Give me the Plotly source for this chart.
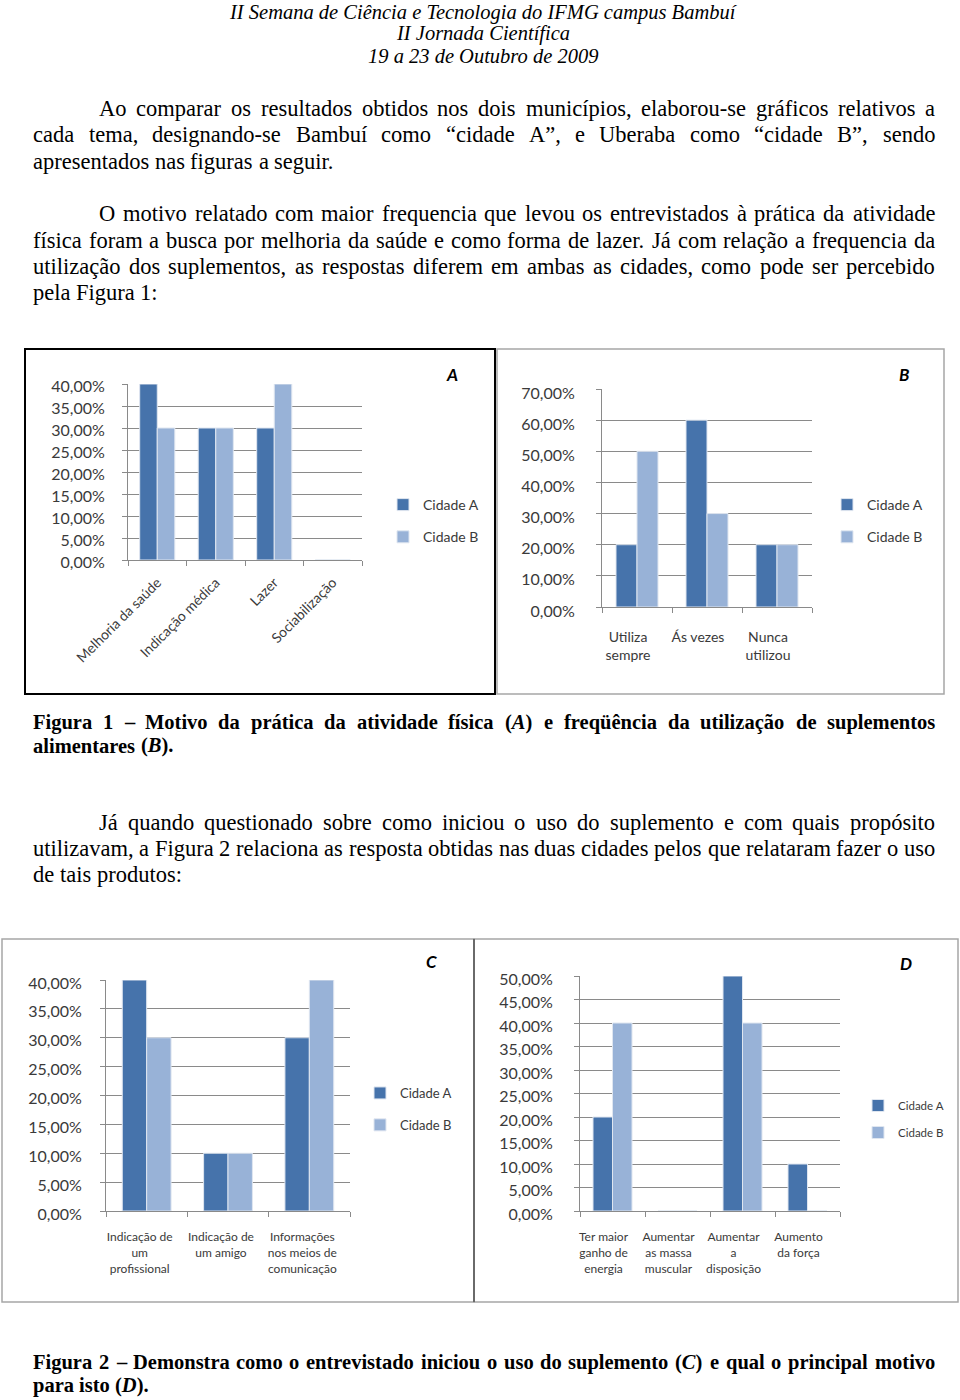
import unicodedata
import plotly.graph_objects as go

W, H = 960, 1400


def fx(px):
    return px / W


def fy(py):
    return 1 - py / H


# ---------------- chart data ----------------
series_names = ["Cidade A", "Cidade B"]
series_colors = ["#4673AB", "#98B2D7"]

cats_a = ["Melhoria da saúde", "Indicação médica", "Lazer", "Sociabilização"]
a_cidade_a = [40, 30, 30, 0]
a_cidade_b = [30, 30, 40, 0]

cats_b = ["Utiliza<br>sempre", "Ás vezes", "Nunca<br>utilizou"]
b_cidade_a = [20, 60, 20]
b_cidade_b = [50, 30, 20]

cats_c = ["Indicação de<br>um<br>profissional", "Indicação de<br>um amigo",
          "Informações<br>nos meios de<br>comunicação"]
c_cidade_a = [40, 10, 30]
c_cidade_b = [30, 10, 40]

cats_d = ["Ter maior<br>ganho de<br>energia", "Aumentar<br>as massa<br>muscular",
          "Aumentar<br>a<br>disposição", "Aumento<br>da força"]
d_cidade_a = [20, 0, 50, 10]
d_cidade_b = [40, 0, 40, 0]

# ---------------- page text ----------------
header_lines = ["II Semana de Ciência e Tecnologia do IFMG campus Bambuí",
                "II Jornada Científica",
                "19 a 23 de Outubro de 2009"]

para1 = ["Ao comparar os resultados obtidos nos dois municípios, elaborou-se gráficos relativos a",
         "cada tema, designando-se Bambuí como “cidade A”, e Uberaba como “cidade B”, sendo",
         "apresentados nas figuras a seguir."]
para2 = ["O motivo relatado com maior frequencia que levou os entrevistados à prática da atividade",
         "física foram a busca por melhoria da saúde e como forma de lazer. Já com relação a frequencia da",
         "utilização dos suplementos, as respostas diferem em ambas as cidades, como pode ser percebido",
         "pela Figura 1:"]
caption1 = ["Figura 1 – Motivo da prática da atividade física (A) e freqüência da utilização de suplementos",
            "alimentares (B)."]
para3 = ["Já quando questionado sobre como iniciou o uso do suplemento e com quais propósito",
         "utilizavam, a Figura 2 relaciona as resposta obtidas nas duas cidades pelos que relataram fazer o uso",
         "de tais produtos:"]
caption2 = ["Figura 2 – Demonstra como o entrevistado iniciou o uso do suplemento (C) e qual o principal motivo",
            "para isto (D)."]

# Times metrics (per 1000 em) used to justify lines
TR = {" ": 250, "!": 333, "(": 333, ")": 333, ",": 250, "-": 333, ".": 250, ":": 278, ";": 278,
      "“": 444, "”": 444, "–": 500,
      "A": 722, "B": 667, "C": 667, "D": 722, "E": 611, "F": 556, "G": 722, "H": 722, "I": 333,
      "J": 389, "K": 722, "L": 611, "M": 889, "N": 722, "O": 722, "P": 556, "Q": 722, "R": 667,
      "S": 556, "T": 611, "U": 722, "V": 722, "W": 944, "X": 722, "Y": 722, "Z": 611,
      "a": 444, "b": 500, "c": 444, "d": 500, "e": 444, "f": 333, "g": 500, "h": 500, "i": 278,
      "j": 278, "k": 500, "l": 278, "m": 778, "n": 500, "o": 500, "p": 500, "q": 500, "r": 333,
      "s": 389, "t": 278, "u": 500, "v": 500, "w": 722, "x": 500, "y": 500, "z": 444}
TB = {" ": 250, "(": 333, ")": 333, ",": 250, "-": 333, ".": 250, ":": 333, "–": 500,
      "A": 722, "B": 667, "C": 722, "D": 722, "E": 667, "F": 611, "G": 778, "H": 778, "I": 389,
      "M": 944, "a": 500, "b": 556, "c": 444, "d": 556, "e": 444, "f": 333, "g": 500, "h": 556,
      "i": 278, "j": 333, "k": 556, "l": 278, "m": 833, "n": 556, "o": 500, "p": 556, "q": 556,
      "r": 444, "s": 389, "t": 333, "u": 556, "v": 500, "w": 722, "x": 500, "y": 500, "z": 444}


def char_w(ch, table):
    if ch.isdigit():
        return 500
    if ch in table:
        return table[ch]
    base = unicodedata.normalize("NFD", ch)[0]
    return table.get(base, 500)


def word_w(word, table, size):
    return sum(char_w(c, table) for c in word) * size / 1000.0


fig = go.Figure()

# ---------------- bar charts ----------------
panels = [
    dict(cats=cats_a, vals=[a_cidade_a, a_cidade_b], ax="", legend="legend"),
    dict(cats=cats_b, vals=[b_cidade_a, b_cidade_b], ax="2", legend="legend2"),
    dict(cats=cats_c, vals=[c_cidade_a, c_cidade_b], ax="3", legend="legend3"),
    dict(cats=cats_d, vals=[d_cidade_a, d_cidade_b], ax="4", legend="legend4"),
]
for pi, p in enumerate(panels):
    for si in range(2):
        fig.add_trace(go.Bar(
            x=p["cats"], y=p["vals"][si], name=series_names[si],
            xaxis="x" + p["ax"], yaxis="y" + p["ax"], legend=p["legend"],
            legendgroup=f"p{pi}s{si}",
            marker=dict(color=series_colors[si], line=dict(color="#dfe6f0", width=1)),
            hoverinfo="skip",
        ))

grid_c = "#8a8a8a"
tick_font = dict(family="Lato", size=16, color="#3a3a3a")


def yaxis(domain_px, rng, dtick, standoff, shift):
    return dict(domain=[fy(domain_px[0]), fy(domain_px[1])], range=rng, dtick=dtick,
                tickformat=".2f", ticksuffix="%", showgrid=True, gridcolor=grid_c, gridwidth=1,
                showline=True, linecolor=grid_c, ticks="outside", ticklen=5, tickcolor=grid_c,
                ticklabelstandoff=standoff, ticklabelshift=shift,
                zeroline=False, tickfont=tick_font, fixedrange=True, automargin=False)


def xaxis(domain_px, size, angle=0, standoff=6, shift=0):
    return dict(domain=[fx(domain_px[0]), fx(domain_px[1])], type="category", showgrid=False,
                showline=True, linecolor=grid_c, ticks="outside", ticklen=5, tickcolor=grid_c,
                tickson="boundaries", tickangle=angle, ticklabelstandoff=standoff,
                ticklabelshift=shift,
                tickfont=dict(family="Lato", size=size, color="#3a3a3a"), fixedrange=True,
                automargin=False)


layout_axes = dict(
    xaxis=dict(xaxis((128, 362), 14, -45, 8), anchor="y"),
    yaxis=dict(yaxis((560, 384), [0, 40], 5, 14, 2), anchor="x"),
    xaxis2=dict(xaxis((602, 812), 14, 0, 17, -9), anchor="y2"),
    yaxis2=dict(yaxis((607, 389), [0, 70], 10, 18, 4), anchor="x2"),
    xaxis3=dict(xaxis((106, 350), 12, 0, 15, -7), anchor="y3"),
    yaxis3=dict(yaxis((1211, 980), [0, 40], 5, 15, 3), anchor="x3"),
    xaxis4=dict(xaxis((580, 840), 12, 0, 15, -9), anchor="y4"),
    yaxis4=dict(yaxis((1211, 976), [0, 50], 5, 18, 3), anchor="x4"),
)


def legend(xpx, ypx, size, gap):
    return dict(x=fx(xpx), y=fy(ypx), xanchor="left", yanchor="top", bgcolor="rgba(0,0,0,0)",
                font=dict(family="Lato", size=size, color="#3a3a3a"), traceorder="grouped",
                tracegroupgap=gap, itemclick=False, itemdoubleclick=False)


# ---------------- text annotations ----------------
annotations = []

header_y = [0, 33, 56]
for i, line in enumerate(header_lines):
    annotations.append(dict(text=line, x=fx(483), y=fy(header_y[i]), xref="paper", yref="paper",
                            xanchor="center", yanchor="top" if i == 0 else "middle",
                            showarrow=False, borderpad=0,
                            font=dict(family="Liberation Serif", size=20.5, style="italic", color="#000")))

LEFT, RIGHT, INDENT = 32, 934, 98


def add_paragraph(lines, y0, step, size, bold=False, indent=True, justify_last=False):
    table = TB if bold else TR
    for li, line in enumerate(lines):
        words = line.split(" ")
        xl = INDENT if (indent and li == 0) else LEFT
        widths = [word_w(w, table, size) for w in words]
        last = li == len(lines) - 1
        if (not last or justify_last) and len(words) > 1:
            gap = (RIGHT - xl - sum(widths)) / (len(words) - 1)
        else:
            gap = table[" "] * size / 1000.0
        x = xl
        for w, wd in zip(words, widths):
            txt = w
            for letter in "ABCD":
                if txt.startswith("(" + letter + ")"):
                    txt = txt.replace("(" + letter + ")", "(<i>" + letter + "</i>)")
            if bold:
                txt = "<b>" + txt + "</b>"
            annotations.append(dict(text=txt, x=fx(x), y=fy(y0 + li * step), xref="paper",
                                    yref="paper", xanchor="left", yanchor="middle",
                                    showarrow=False, borderpad=0,
                                    font=dict(family="Liberation Serif", size=size, color="#000")))
            x += wd + gap


add_paragraph(para1, 108, 26.5, 22.5)
add_paragraph(para2, 214, 26.3, 22.5)
add_paragraph(caption1, 722, 24, 20.5, bold=True, indent=False)
add_paragraph(para3, 822, 26, 22.5)
add_paragraph(caption2, 1362, 23, 20.5, bold=True, indent=False)

for letter, xpx, ypx in [("A", 452, 375), ("B", 904, 375), ("C", 431, 961), ("D", 906, 963)]:
    annotations.append(dict(text="<b><i>" + letter + "</i></b>", x=fx(xpx), y=fy(ypx), xref="paper",
                            yref="paper", xanchor="center", yanchor="middle", showarrow=False,
                            font=dict(family="Lato", size=17, color="#000")))

# ---------------- frames ----------------
shapes = []


def frame(x0, y0, x1, y1, color, width):
    shapes.append(dict(type="rect", xref="paper", yref="paper", x0=fx(x0), x1=fx(x1),
                       y0=fy(y1), y1=fy(y0), line=dict(color=color, width=width),
                       fillcolor="rgba(0,0,0,0)", layer="below"))


frame(497, 349, 944, 694, "#a6a6a6", 1.5)
frame(25, 349, 495, 694, "#000000", 2)
frame(2, 939, 474, 1302, "#a6a6a6", 1.5)
frame(474, 939, 958, 1302, "#a6a6a6", 1.5)
shapes.append(dict(type="line", xref="paper", yref="paper", x0=fx(474), x1=fx(474), y0=fy(1302),
                   y1=fy(939), line=dict(color="#555", width=1.5)))

fig.update_layout(
    width=W, height=H, margin=dict(l=0, r=0, t=0, b=0, pad=0, autoexpand=False),
    paper_bgcolor="#ffffff", plot_bgcolor="#ffffff",
    barmode="group", bargap=0.4, bargroupgap=0,
    separators=",.",
    showlegend=True,
    legend=legend(383, 489, 14, 11),
    legend2=legend(827, 489, 14, 11),
    legend3=legend(360, 1078, 13, 12),
    legend4=legend(858, 1091, 11.5, 8),
    annotations=annotations, shapes=shapes,
    **layout_axes,
)

fig.write_html("out.html", config={"displayModeBar": False},
               post_script="document.body.style.margin='0';")
